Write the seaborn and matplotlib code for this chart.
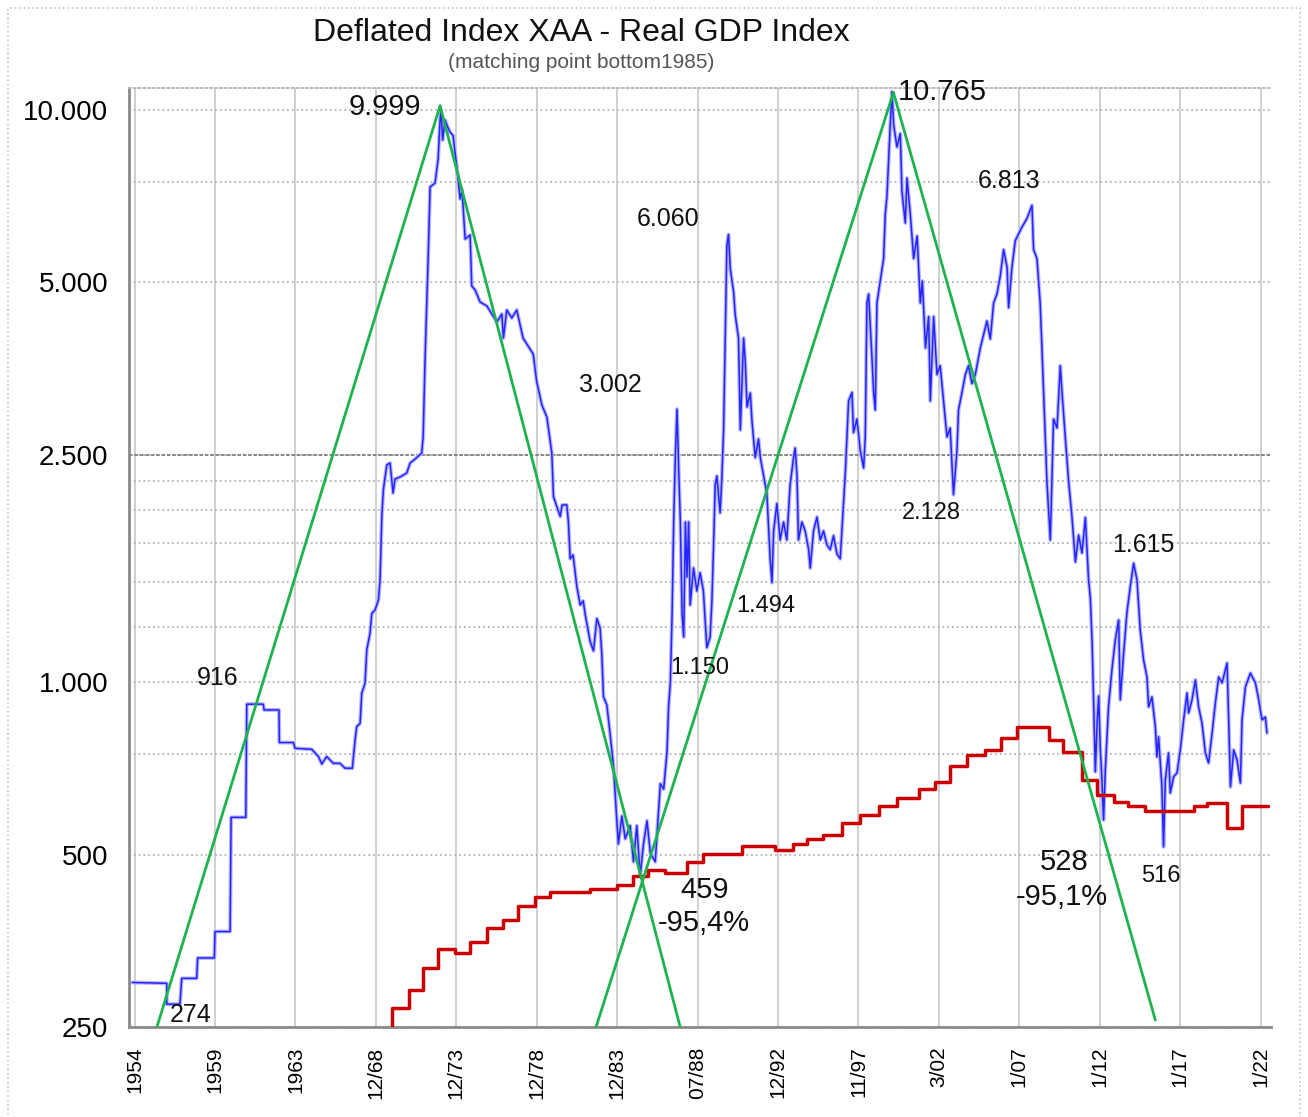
import numpy as np
import matplotlib
matplotlib.use("Agg")
import matplotlib.pyplot as plt
from matplotlib.ticker import FixedLocator, FuncFormatter, NullFormatter
from matplotlib.patches import Rectangle
import seaborn as sns

# ---------------- data ----------------
tick_years = [1954.0, 1959.0, 1963.0, 1968.92, 1973.92, 1978.92, 1983.92, 1988.5,
              1992.92, 1997.83, 2002.17, 2007.0, 2012.0, 2017.0, 2022.0]
tick_labels = ['1954', '1959', '1963', '12/68', '12/73', '12/78', '12/83', '07/88',
               '12/92', '11/97', '3/02', '1/07', '1/12', '1/17', '1/22']

xaa_year = [
    1953.86, 1956.00, 1956.00, 1956.82, 1956.93, 1957.86, 1957.92, 1958.96, 1959.00, 1959.75,
    1959.80, 1960.53, 1960.58, 1961.40, 1961.44, 1962.18, 1962.20, 1962.90, 1962.98, 1964.20,
    1964.69, 1964.94, 1965.30, 1965.79, 1966.28, 1966.65, 1967.19, 1967.39, 1967.51, 1967.76,
    1967.88, 1968.12, 1968.25, 1968.49, 1968.62, 1968.86, 1969.08, 1969.18, 1969.29, 1969.39,
    1969.60, 1969.80, 1969.99, 1970.11, 1970.43, 1970.84, 1971.05, 1971.36, 1971.77, 1971.86,
    1971.98, 1972.17, 1972.29, 1972.60, 1972.79, 1972.91, 1972.97, 1973.07, 1973.22, 1973.41,
    1973.53, 1973.72, 1973.95, 1974.16, 1974.28, 1974.47, 1974.78, 1974.88, 1975.09, 1975.40,
    1975.82, 1976.44, 1976.75, 1976.85, 1977.06, 1977.37, 1977.68, 1978.07, 1978.70, 1978.92,
    1979.24, 1979.55, 1979.86, 1979.96, 1980.38, 1980.50, 1980.79, 1980.89, 1981.00, 1981.18,
    1981.41, 1981.62, 1981.81, 1981.93, 1982.24, 1982.45, 1982.66, 1982.86, 1982.97, 1983.07,
    1983.28, 1983.48, 1983.69, 1983.90, 1983.99, 1984.19, 1984.38, 1984.66, 1984.85, 1985.04,
    1985.23, 1985.42, 1985.62, 1985.81, 1986.09, 1986.19, 1986.38, 1986.57, 1986.76, 1986.85,
    1986.95, 1987.05, 1987.14, 1987.24, 1987.33, 1987.42, 1987.52, 1987.62, 1987.71, 1987.81,
    1987.90, 1987.99, 1988.08, 1988.27, 1988.46, 1988.64, 1988.82, 1989.01, 1989.19, 1989.29,
    1989.38, 1989.47, 1989.56, 1989.74, 1989.84, 1989.93, 1990.02, 1990.11, 1990.20, 1990.30,
    1990.48, 1990.57, 1990.75, 1990.85, 1990.94, 1991.03, 1991.12, 1991.22, 1991.40, 1991.49,
    1991.67, 1991.85, 1991.95, 1992.13, 1992.31, 1992.49, 1992.59, 1992.68, 1992.86, 1993.05,
    1993.26, 1993.46, 1993.66, 1993.87, 1993.97, 1994.08, 1994.17, 1994.38, 1994.58, 1994.79,
    1994.89, 1995.09, 1995.30, 1995.50, 1995.70, 1995.91, 1996.11, 1996.31, 1996.52, 1996.72,
    1996.92, 1997.03, 1997.23, 1997.44, 1997.53, 1997.74, 1997.93, 1998.11, 1998.20, 1998.29,
    1998.38, 1998.56, 1998.65, 1998.74, 1998.83, 1999.01, 1999.19, 1999.28, 1999.37, 1999.55,
    1999.64, 1999.73, 1999.91, 2000.09, 2000.18, 2000.36, 2000.45, 2000.63, 2000.81, 2001.00,
    2001.17, 2001.28, 2001.45, 2001.62, 2001.71, 2001.89, 2002.07, 2002.25, 2002.45, 2002.66,
    2002.85, 2003.05, 2003.26, 2003.35, 2003.56, 2003.76, 2003.95, 2004.16, 2004.36, 2004.66,
    2005.06, 2005.26, 2005.46, 2005.66, 2005.86, 2006.06, 2006.27, 2006.36, 2006.56, 2006.76,
    2007.17, 2007.48, 2007.79, 2007.89, 2008.10, 2008.30, 2008.41, 2008.62, 2008.72, 2008.93,
    2009.03, 2009.13, 2009.35, 2009.55, 2009.66, 2009.86, 2010.07, 2010.28, 2010.49, 2010.69,
    2010.90, 2011.11, 2011.31, 2011.42, 2011.53, 2011.63, 2011.73, 2011.84, 2011.94, 2012.04,
    2012.14, 2012.24, 2012.35, 2012.55, 2012.76, 2012.97, 2013.18, 2013.28, 2013.49, 2013.69,
    2013.90, 2014.11, 2014.32, 2014.52, 2014.73, 2014.94, 2015.04, 2015.25, 2015.46, 2015.56,
    2015.66, 2015.87, 2015.97, 2016.08, 2016.28, 2016.39, 2016.60, 2016.81, 2017.01, 2017.22,
    2017.43, 2017.53, 2017.74, 2017.95, 2018.15, 2018.36, 2018.57, 2018.77, 2018.99, 2019.19,
    2019.40, 2019.61, 2019.92, 2020.02, 2020.13, 2020.33, 2020.54, 2020.75, 2020.85, 2021.06,
    2021.37, 2021.68, 2021.89, 2022.09, 2022.30, 2022.40,
]
xaa_value = [
    299, 298, 274, 274, 304, 304, 330, 330, 367, 367,
    581, 581, 916, 916, 895, 895, 785, 785, 767, 764,
    742, 720, 742, 722, 722, 708, 708, 793, 837, 848,
    957, 996, 1139, 1218, 1320, 1338, 1393, 1510, 1953, 2177,
    2398, 2417, 2142, 2266, 2285, 2322, 2417, 2456, 2516, 2684,
    3687, 5501, 7336, 7455, 8211, 9606, 9999, 8863, 9606, 9302,
    9153, 9025, 7951, 6990, 7248, 5951, 6048, 4926, 4848, 4619,
    4546, 4262, 4401, 3996, 4473, 4331, 4473, 3996, 3747, 3354,
    3052, 2908, 2516, 2111, 1949, 2041, 2043, 1906, 1644, 1669,
    1474, 1365, 1388, 1317, 1179, 1135, 1293, 1245, 1116, 944,
    913, 814, 715, 573, 522, 584, 533, 562, 486, 562,
    459, 522, 573, 503, 486, 541, 665, 651, 756, 909,
    998, 1317, 1906, 2516, 3002, 2380, 1906, 1317, 1200, 1906,
    1528, 1906, 1365, 1584, 1444, 1555, 1444, 1150, 1200, 1393,
    1738, 2212, 2294, 1978, 2294, 2760, 3996, 5786, 6060, 5275,
    4809, 4384, 3996, 2760, 3321, 3996, 3643, 3028, 3203, 2862,
    2470, 2662, 2470, 2294, 2134, 1644, 1494, 1839, 2053, 1773,
    1906, 1773, 2212, 2470, 2567, 2294, 1773, 1906, 1839, 1706,
    1584, 1839, 1945, 1773, 1839, 1738, 1706, 1804, 1676, 1644,
    2050, 2322, 3102, 3210, 2731, 2885, 2542, 2369, 2684, 4601,
    4770, 3702, 3210, 2991, 4601, 5026, 5501, 6581, 7075, 9430,
    10765, 9430, 8617, 9094, 7201, 6347, 7607, 6581, 5501, 6024,
    4601, 5026, 3839, 4356, 3102, 4356, 3449, 3575, 3102, 2684,
    2783, 2128, 2542, 2991, 3210, 3449, 3575, 3327, 3449, 3839,
    4279, 3980, 4601, 4770, 5128, 5703, 5307, 4515, 5307, 5911,
    6246, 6465, 6813, 5703, 5501, 4601, 3839, 2684, 2241, 1773,
    2241, 2885, 2783, 3575, 3210, 2684, 2241, 1941, 1623, 1809,
    1683, 1941, 1510, 1404, 1174, 913, 698, 849, 947, 763,
    675, 575, 703, 906, 1051, 1186, 1285, 932, 1125, 1322,
    1468, 1615, 1510, 1234, 1094, 1022, 906, 943, 836, 741,
    803, 657, 516, 675, 753, 641, 684, 695, 762, 860,
    958, 884, 932, 1010, 906, 849, 753, 723, 816, 920,
    1022, 998, 1081, 860, 657, 762, 732, 667, 860, 982,
    1038, 998, 932, 860, 870, 816,
]

gdp_year = [1969.80, 1969.91, 1970.98, 1971.86, 1972.79, 1973.85, 1974.78, 1975.82, 1976.83, 1977.76,
            1978.82, 1979.75, 1982.24, 1983.90, 1984.85, 1985.68, 1986.65, 1987.89, 1988.82, 1990.94,
            1992.77, 1993.85, 1994.67, 1995.69, 1996.81, 1997.93, 1998.92, 1999.91, 2001.08, 2001.98,
            2002.85, 2003.85, 2004.95, 2005.89, 2006.85, 2008.82, 2009.75, 2010.90, 2011.84, 2012.86,
            2013.79, 2014.83, 2017.84, 2018.67, 2019.92, 2020.85, 2022.49]
gdp_value = [240, 270, 290, 317, 342, 337, 352, 372, 385, 407,
             422, 430, 436, 443, 458, 470, 465, 485, 501, 517,
             510, 522, 533, 541, 568, 587, 607, 627, 651, 671,
             715, 747, 762, 799, 837, 793, 756, 675, 636, 619,
             607, 595, 607, 616, 557, 608, 608]

trend_up_1_year = [1955.39, 1972.91]
trend_up_1_value = [250, 10170]
trend_down_1_year = [1972.91, 1987.51]
trend_down_1_value = [10170, 250]
trend_up_2_year = [1982.61, 1999.72]
trend_up_2_value = [250, 10730]
trend_down_2_year = [1999.72, 2015.46]
trend_down_2_value = [10730, 257]

y_major = [250, 500, 1000, 2500, 5000, 10000]
y_minor = [750, 1250, 1500, 1750, 2000, 2250, 7500]

# annotations: (text, axes-x, axes-y, size)
notes = [
    ("9.999", 0.2242, 0.9798, 21), ("10.765", 0.7119, 0.9957, 21),
    ("6.813", 0.7706, 0.9010, 18), ("6.060", 0.4720, 0.8605, 18),
    ("3.002", 0.4212, 0.6837, 18), ("916", 0.0779, 0.3717, 18),
    ("274", 0.0543, 0.0128, 18), ("1.150", 0.5000, 0.3823, 17),
    ("1.494", 0.5578, 0.4483, 17), ("2.128", 0.7023, 0.5474, 17),
    ("1.615", 0.8879, 0.5133, 18), ("459", 0.5044, 0.1459, 21),
    ("-95,4%", 0.5035, 0.1108, 21), ("528", 0.8187, 0.1757, 21),
    ("-95,1%", 0.8170, 0.1384, 21), ("516", 0.9037, 0.1608, 17),
]

# ---------------- style ----------------
sns.set_style("white")
plt.rcParams['font.family'] = ['Liberation Sans', 'DejaVu Sans']

fig = plt.figure(figsize=(13.08, 11.17), dpi=100)
ax = fig.add_axes([0.0986, 0.0806, 0.8731, 0.8406])

# x scale: equal spacing between labelled dates
ext_years = [1900.0] + tick_years + [2100.0]
ext_pos = [(1900.0 - 1954.0) / 5.0] + list(range(len(tick_years))) + [14 + (2100.0 - 2022.0) / 5.0]


def fwd(x):
    return np.interp(x, ext_years, ext_pos)


def inv(p):
    return np.interp(p, ext_pos, ext_years)


# blue index: light halo + core
sns.lineplot(x=xaa_year, y=xaa_value, ax=ax, color='#b4b4ff', linewidth=2.8,
             estimator=None, sort=False, zorder=2)
sns.lineplot(x=xaa_year, y=xaa_value, ax=ax, color='#2424ff', linewidth=1.1,
             estimator=None, sort=False, zorder=3)
sns.lineplot(x=gdp_year, y=gdp_value, ax=ax, color='#cc0000', linewidth=2.5,
             estimator=None, sort=False, drawstyle='steps-post', zorder=4)
for yy, vv in [(trend_up_1_year, trend_up_1_value), (trend_down_1_year, trend_down_1_value),
               (trend_up_2_year, trend_up_2_value), (trend_down_2_year, trend_down_2_value)]:
    sns.lineplot(x=yy, y=vv, ax=ax, color='#1db34f', linewidth=2.0,
                 estimator=None, sort=False, zorder=5)

ax.set_xscale('function', functions=(fwd, inv))
ax.set_yscale('log')
ax.set_xlim(1953.65, 2022.65)
ax.set_ylim(250, 10925)

ax.xaxis.set_major_locator(FixedLocator(tick_years))
ax.set_xticklabels(tick_labels, rotation=90)
ax.xaxis.set_minor_locator(FixedLocator([]))
ax.yaxis.set_major_locator(FixedLocator(y_major))
ax.yaxis.set_minor_locator(FixedLocator(y_minor))
ax.yaxis.set_major_formatter(FuncFormatter(lambda v, p: f"{int(round(v)):,}".replace(',', '.')))
ax.yaxis.set_minor_formatter(NullFormatter())

ax.tick_params(axis='x', which='major', length=6, width=1.4, color='#8a8a8a',
               pad=8, labelsize=15, labelcolor='black')
ax.tick_params(axis='y', which='both', length=6, width=1.4, color='#8a8a8a',
               pad=9, labelsize=20, labelcolor='black')

ax.grid(False)
ax.xaxis.grid(True, color='#c8c8c8', linewidth=1.2, linestyle='-')
ax.yaxis.grid(True, which='both', color='#b4b4b4', linewidth=1.3, linestyle=':')
ax.axhline(2500, color='#808080', linewidth=1.3, linestyle=(0, (2, 1)), zorder=1)
ax.set_axisbelow(True)

for side in ['left', 'bottom']:
    ax.spines[side].set_color('#8a8a8a')
    ax.spines[side].set_linewidth(2)
ax.spines['top'].set_color('#b4b4b4')
ax.spines['top'].set_linestyle(':')
ax.spines['top'].set_linewidth(1.3)
ax.spines['right'].set_visible(False)

ax.set_xlabel('')
ax.set_ylabel('')

for txt, xa, ya, fs in notes:
    ax.text(xa, ya, txt, transform=ax.transAxes, ha='center', va='center',
            fontsize=fs, color='#111111', zorder=6)

fig.text(0.4442, 0.9705, "Deflated Index XAA - Real GDP Index", ha='center', va='center',
         fontsize=23, color='#111111')
fig.text(0.4442, 0.9436, "(matching point bottom1985)", ha='center', va='center',
         fontsize=15, color='#555555')

frame = Rectangle((8 / 1308, -0.02), 1292 / 1308, 1 - 8 / 1117 + 0.02,
                  transform=fig.transFigure, fill=False, edgecolor='#c4c4c4',
                  linestyle=':', linewidth=1.2)
fig.patches.append(frame)

fig.savefig('out.png', dpi=100)
